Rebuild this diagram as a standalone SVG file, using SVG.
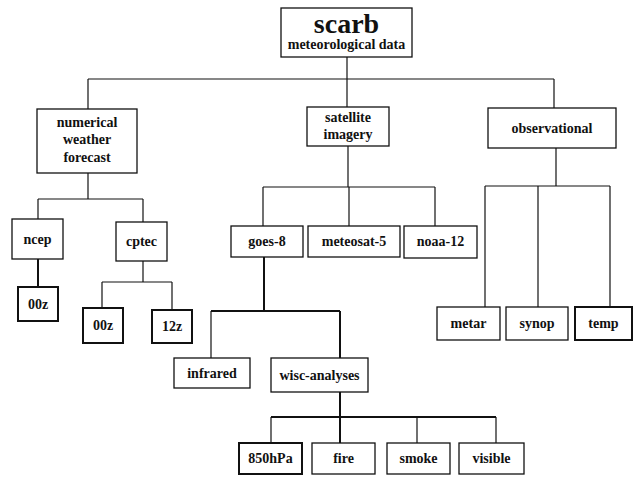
<svg xmlns="http://www.w3.org/2000/svg" width="634" height="477" viewBox="0 0 634 477">
<style>
rect{fill:#fff;stroke:#111;stroke-width:1.3}
rect.thick{stroke-width:2}
text{font-family:"Liberation Serif","Times New Roman",serif;font-weight:bold;font-size:14px;fill:#111;text-anchor:middle}
.big{font-size:28px}
#connectors line{stroke:#111;stroke-width:1.2}
#connectors line.thick{stroke-width:2}
</style>
<rect x="0" y="0" width="634" height="477" style="fill:#fff;stroke:none"/>
<g id="connectors">
<line x1="347" y1="57" x2="347" y2="107"/>
<line x1="88" y1="79" x2="554" y2="79"/>
<line x1="88" y1="79" x2="88" y2="109"/>
<line x1="554" y1="79" x2="554" y2="108"/>
<line x1="88" y1="173" x2="88" y2="199"/>
<line x1="38" y1="199" x2="143" y2="199"/>
<line x1="38" y1="199" x2="38" y2="219"/>
<line x1="143" y1="199" x2="143" y2="222"/>
<line class="thick" x1="38" y1="259" x2="38" y2="287"/>
<line x1="143" y1="261" x2="143" y2="282"/>
<line x1="102" y1="282" x2="172" y2="282"/>
<line x1="102" y1="282" x2="102" y2="308"/>
<line x1="172" y1="282" x2="172" y2="310"/>
<line x1="348" y1="146" x2="348" y2="187"/>
<line x1="263" y1="187" x2="435" y2="187"/>
<line x1="263" y1="187" x2="263" y2="226"/>
<line x1="349" y1="187" x2="349" y2="226"/>
<line x1="435" y1="187" x2="435" y2="226"/>
<line class="thick" x1="264" y1="257" x2="264" y2="311"/>
<line class="thick" x1="211" y1="311" x2="340" y2="311"/>
<line x1="211" y1="311" x2="211" y2="358"/>
<line class="thick" x1="340" y1="311" x2="340" y2="358"/>
<line class="thick" x1="340" y1="392" x2="340" y2="417"/>
<line class="thick" x1="271" y1="417" x2="496" y2="417"/>
<line x1="271" y1="417" x2="271" y2="443"/>
<line class="thick" x1="340" y1="417" x2="340" y2="443"/>
<line x1="417" y1="417" x2="417" y2="443"/>
<line x1="496" y1="417" x2="496" y2="443"/>
<line x1="556" y1="148" x2="556" y2="186"/>
<line x1="485" y1="186" x2="610" y2="186"/>
<line x1="485" y1="186" x2="485" y2="307"/>
<line x1="538" y1="186" x2="538" y2="307"/>
<line x1="610" y1="186" x2="610" y2="307"/>
</g>
<g id="scarb"><rect x="281" y="8" width="131" height="49"/><text class="big" x="346.5" y="33">scarb</text><text x="346.5" y="49">meteorological data</text></g>
<g id="nwf"><rect x="37" y="109" width="100" height="64"/><text x="87" y="127">numerical</text><text x="87" y="144">weather</text><text x="87" y="162">forecast</text></g>
<g id="satellite"><rect x="307" y="107" width="82" height="39"/><text x="348" y="122">satellite</text><text x="348" y="139">imagery</text></g>
<g id="observational"><rect x="488" y="108" width="128" height="40"/><text x="552" y="133">observational</text></g>
<g id="ncep"><rect x="12" y="219" width="51" height="40"/><text x="37.5" y="244">ncep</text></g>
<g id="cptec"><rect x="116" y="222" width="51" height="39"/><text x="141.5" y="246">cptec</text></g>
<g id="ncep-00z"><rect class="thick" x="18" y="287" width="40" height="34"/><text x="38" y="309">00z</text></g>
<g id="cptec-00z"><rect class="thick" x="83" y="308" width="40" height="35"/><text x="103" y="330">00z</text></g>
<g id="cptec-12z"><rect class="thick" x="152" y="310" width="40" height="33"/><text x="172" y="331">12z</text></g>
<g id="goes8"><rect x="231" y="226" width="72" height="31"/><text x="267" y="246">goes-8</text></g>
<g id="meteosat5"><rect x="308" y="226" width="92" height="31"/><text x="354" y="246">meteosat-5</text></g>
<g id="noaa12"><rect x="404" y="226" width="73" height="32"/><text x="440.5" y="246">noaa-12</text></g>
<g id="infrared"><rect x="174" y="358" width="76" height="30"/><text x="212" y="378">infrared</text></g>
<g id="wisc"><rect x="271" y="358" width="97" height="34"/><text x="319.5" y="380">wisc-analyses</text></g>
<g id="hpa850"><rect class="thick" x="239" y="443" width="63" height="31"/><text x="270.5" y="463">850hPa</text></g>
<g id="fire"><rect x="312" y="443" width="63" height="31"/><text x="343.5" y="463">fire</text></g>
<g id="smoke"><rect x="387" y="443" width="63" height="31"/><text x="418.5" y="463">smoke</text></g>
<g id="visible"><rect x="459" y="443" width="65" height="31"/><text x="491.5" y="463">visible</text></g>
<g id="metar"><rect x="437" y="307" width="63" height="33"/><text x="468.5" y="328">metar</text></g>
<g id="synop"><rect x="506" y="307" width="62" height="33"/><text x="537" y="328">synop</text></g>
<g id="temp"><rect class="thick" x="575" y="307" width="57" height="33"/><text x="603.5" y="328">temp</text></g>
</svg>
